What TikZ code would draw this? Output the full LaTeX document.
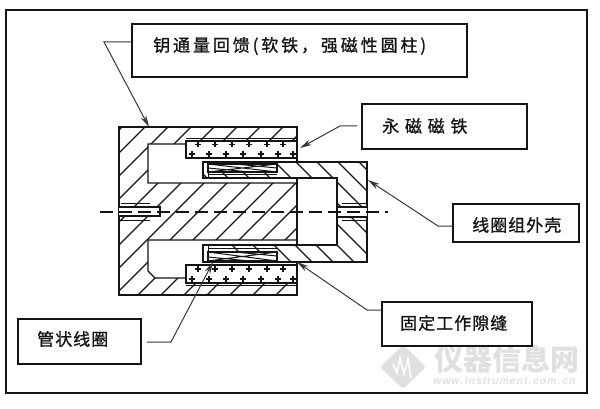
\documentclass[tikz,border=0pt]{standalone}
\usepackage{fontspec}
\usetikzlibrary{arrows.meta}
\newfontfamily\lblA[LetterSpace=17,FakeBold=1]{Noto Sans CJK SC}
\newfontfamily\lblB[LetterSpace=34,FakeBold=1]{Noto Sans CJK SC}
\newfontfamily\lblC[LetterSpace=6,FakeBold=1]{Noto Sans CJK SC}
\newfontfamily\wmfont{Noto Sans CJK SC}
\newfontfamily\urlfont[LetterSpace=9]{Liberation Sans}
\definecolor{ink}{gray}{0.08}
\definecolor{wm}{gray}{0.88}
\tikzset{
  lbl/.style={draw=ink,line width=1.4pt,fill=white,inner sep=0pt},
  lab/.style={anchor=west,inner sep=0pt,text=ink,font=\fontsize{17}{17}\selectfont},
  lead/.style={draw=ink!85!white,line width=1pt,-{Stealth[length=12pt,width=6pt]}},
  edge/.style={draw=ink,line width=1.4pt},
  hatch/.style={draw=ink,line width=1.2pt},
  thin/.style={draw=ink,line width=1pt},
  plusmk/.style={draw=ink,line width=1.3pt}
}
\begin{document}
\begin{tikzpicture}[x=1pt,y=-1pt]
\useasboundingbox[fill=white] (0,0) rectangle (600,409);
% frame
\draw[draw=ink,line width=1.5pt] (6,10) rectangle (587,393);
% field-return body hatching
\begin{scope}
\clip (119,127) rectangle (297,295);
\foreach \c in {249,272,...,594} \draw[hatch] (\c-100,100) -- (\c-320,320);
\end{scope}
% cavities
\fill[white] (148,144) -- (186,144) -- (186,158) -- (297,158) -- (297,183) -- (148,183) -- cycle;
\fill[white] (148,240) -- (297,240) -- (297,265) -- (186,265) -- (186,278) -- (155,278) -- (148,271) -- cycle;
\draw[edge] (119,127) rectangle (297,295);
\draw[edge] (186,158) -- (186,144) -- (148,144) -- (148,183) -- (297,183) -- (297,240) -- (148,240) -- (148,271) -- (155,278) -- (186,278);
% magnets
\draw[edge,fill=white] (186,141) rectangle (297,158);
\draw[edge,fill=white] (186,265) rectangle (297,283);
\draw[thin] (186,285) -- (297,285);
\draw[thin] (186,139) -- (297,139);
\foreach \x in {198,215,232,249,267,283} {
  \draw[plusmk] (\x-3,144.5) -- (\x+3,144.5) (\x,141.5) -- (\x,147.5);
  \draw[plusmk] (\x-3,269) -- (\x+3,269) (\x,266) -- (\x,272);
}
\foreach \x in {192,209,226,243,261,278,293} {
  \draw[plusmk] (\x-3,154) -- (\x+3,154) (\x,151) -- (\x,157);
  \draw[plusmk] (\x-3,279) -- (\x+3,279) (\x,276) -- (\x,282);
}
% coil shell
\fill[white] (203,162) -- (367,162) -- (367,262) -- (203,262) -- (203,245) -- (337,245) -- (337,178) -- (203,178) -- cycle;
\begin{scope}
\clip (203,162) -- (367,162) -- (367,262) -- (203,262) -- (203,245) -- (337,245) -- (337,178) -- (203,178) -- cycle;
\foreach \c in {-13,8,...,218} \draw[hatch] (\c+100,100) -- (\c+320,320);
\end{scope}
\draw[edge] (203,162) -- (367,162) -- (367,262) -- (203,262) -- (203,245) -- (337,245) -- (337,178) -- (203,178) -- cycle;
\draw[thin] (208,178) -- (208,162) (208,245) -- (208,262);
% coils
\draw[edge,fill=white] (208,164) rectangle (277,172);
\draw[edge,fill=white] (208,252) rectangle (277,261);
\draw[thin] (208,164) -- (277,172) (208,172) -- (277,164) (208,168) -- (250,172) (235,164) -- (277,168);
\draw[thin] (208,252) -- (277,261) (208,261) -- (277,252) (208,257) -- (250,261) (235,252) -- (277,256);
\draw[thin] (208,175) -- (277,175) (208,248.5) -- (277,248.5);
% pins and threads
\fill[white] (119,207) rectangle (160,216);
\draw[edge] (119,207) -- (160,207) -- (160,216) -- (119,216);
\fill[white] (338,207) rectangle (367,217);
\draw[edge] (338,207) -- (367,207) (338,217) -- (367,217);
\draw[thin] (121,203) -- (150,203) (121,220) -- (150,220);
\draw[thin] (342,203) -- (367,203) (342,220) -- (367,220);
% centre line
\coordinate (cl1) at (100,212);
\coordinate (cl2) at (388,212);
\draw[draw=ink,line width=1.1pt,dash pattern=on 13pt off 6pt] (cl1) -- (cl2);
% watermark
\fill[wm,rounded corners=3pt] (403,345) -- (426,367) -- (403,389) -- (380,367) -- cycle;
\draw[white,line width=1.6pt] (393,364) -- (397,373) -- (400,358) -- (404,374) -- (408,359) -- (411,378);
\node[anchor=west,inner sep=0pt,text=wm] (wm1) at (434,359) {\wmfont\bfseries\fontsize{29}{29}\selectfont 仪器信息网};
\node[anchor=west,inner sep=0pt,text=wm] (wm2) at (433,381) {\urlfont\bfseries\itshape\fontsize{10.5}{10.5}\selectfont www.\,instrument.\,com.\,cn};
% label boxes
\node[lbl,minimum width=335pt,minimum height=53pt] (b1) at (299.5,50.5) {};
\node[lbl,minimum width=165pt,minimum height=45pt] (b2) at (444.5,126.5) {};
\node[lbl,minimum width=126pt,minimum height=38pt] (b3) at (516,223) {};
\node[lbl,minimum width=150pt,minimum height=44pt] (b4) at (457,324) {};
\node[lbl,minimum width=123pt,minimum height=45pt] (b5) at (79.5,341.5) {};
% label texts
\node[lab] (t1) at (153,46) {\lblA 钥通量回馈(软铁，强磁性圆柱)};
\node[lab] (t2) at (382,126) {\lblB 永磁磁铁};
\node[lab] (t3) at (472,225) {\lblC 线圈组外壳};
\node[lab] (t4) at (400,323) {\lblC 固定工作隙缝};
\node[lab] (t5) at (37,339) {\lblC 管状线圈};
% connectors
\coordinate (k1) at (104,42);   \coordinate (e1) at (149,127);
\coordinate (k2) at (340,126);  \coordinate (e2) at (300,148);
\coordinate (k3) at (438,226);  \coordinate (e3) at (368,180);
\coordinate (k4) at (367,310);  \coordinate (e4) at (297,262);
\coordinate (k5) at (171,342);  \coordinate (e5) at (213,262);
\coordinate (s2) at (357,126);
\coordinate (s5) at (147,342);
\draw[lead] (b1.west |- k1) -- (k1) -- (e1);
\draw[lead] (s2) -- (k2) -- (e2);
\draw[lead] (b3.west |- k3) -- (k3) -- (e3);
\draw[lead] (b4.west |- k4) -- (k4) -- (e4);
\draw[lead] (s5) -- (k5) -- (e5);
\end{tikzpicture}
\end{document}
